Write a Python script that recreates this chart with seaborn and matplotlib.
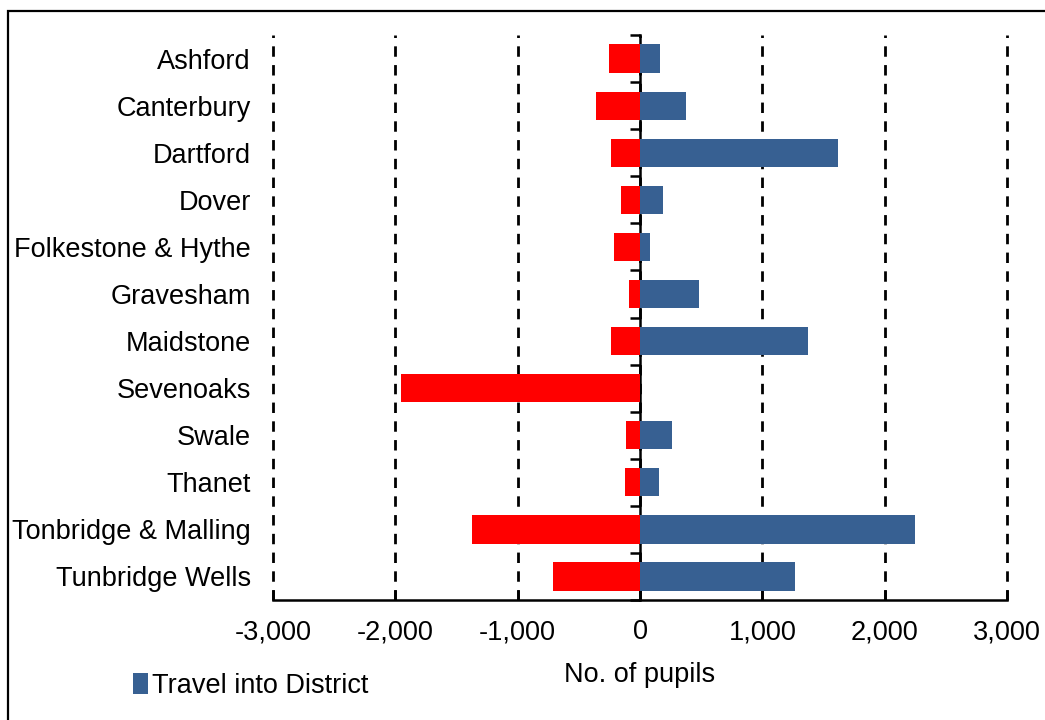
import matplotlib
matplotlib.use("Agg")
import matplotlib.pyplot as plt
import matplotlib.ticker as mticker
from matplotlib.patches import Rectangle
import seaborn as sns
import pandas as pd

districts = ["Ashford", "Canterbury", "Dartford", "Dover", "Folkestone & Hythe",
             "Gravesham", "Maidstone", "Sevenoaks", "Swale", "Thanet",
             "Tonbridge & Malling", "Tunbridge Wells"]
travel_out = [-250, -362, -237, -157, -211, -90, -233, -1951, -114, -125, -1375, -711]
travel_in = [164, 378, 1619, 184, 78, 482, 1374, 0, 262, 159, 2245, 1263]
series_names = ["Travel out of District", "Travel into District"]
series_colors = ["#FF0000", "#376092"]
x_ticks = [-3000, -2000, -1000, 0, 1000, 2000, 3000]

df = pd.DataFrame({
    "District": districts * 2,
    "Series": [series_names[0]] * len(districts) + [series_names[1]] * len(districts),
    "Pupils": travel_out + travel_in,
})

sns.set_theme(style="white")
plt.rcParams["font.family"] = ["Liberation Sans", "DejaVu Sans"]
plt.rcParams["lines.scale_dashes"] = False
plt.rcParams["text.color"] = "black"
plt.rcParams["xtick.color"] = "black"
plt.rcParams["ytick.color"] = "black"
plt.rcParams["axes.labelcolor"] = "black"

FS = 19.5

fig = plt.figure(figsize=(10.45, 7.2), dpi=100)
ax = fig.add_axes([273 / 1045, 1 - 600 / 720, (1007 - 273) / 1045, (600 - 35) / 720])

sns.barplot(data=df, y="District", x="Pupils", hue="Series", dodge=False,
            palette=dict(zip(series_names, series_colors)), width=0.6,
            orient="h", ax=ax, saturation=1, linewidth=0)

ax.set_xlim(-3000, 3000)
ax.set_xticks(x_ticks)
ax.xaxis.set_major_formatter(mticker.FuncFormatter(lambda v, p: f"{int(v):,}"))
ax.set_axisbelow(True)
ax.grid(axis="x", color="black", linewidth=2.0, linestyle=(0, (7.5, 6)))
ax.grid(axis="y", visible=False)
for gl in ax.get_xgridlines():
    gl.set_clip_on(False)

for s in ["top", "right", "left"]:
    ax.spines[s].set_visible(False)
ax.spines["bottom"].set_color("black")
ax.spines["bottom"].set_linewidth(1.8)

ax.tick_params(axis="x", direction="in", length=7, width=1.8, color="black",
               labelsize=FS, pad=14, bottom=True, labelcolor="black")
ax.tick_params(axis="y", length=0, labelsize=FS, pad=16, labelcolor="black")
ax.set_ylabel("")
ax.set_xlabel("No. of pupils", fontsize=FS, labelpad=12, color="black")

sec = ax.secondary_yaxis(0.5)
sec.set_alignment("left")
sec.set_yticks([i - 0.5 for i in range(len(districts) + 1)])
sec.set_yticklabels([])
sec.tick_params(axis="y", which="major", direction="out", length=7, width=1.8,
                color="black")
sec.spines["left"].set_linewidth(1.8)
sec.spines["left"].set_color("black")

handles, labels = ax.get_legend_handles_labels()
ax.get_legend().remove()
idx = labels.index(series_names[1])
fig.legend([handles[idx]], [labels[idx]], loc="center left",
           bbox_to_anchor=(122 / 1045, 1 - 686 / 720), frameon=False,
           fontsize=FS, handlelength=0.55, handleheight=0.8, handletextpad=0.15,
           borderaxespad=0)

fig.patches.append(Rectangle((8 / 1045, -0.1), 1.2, 1 - 11 / 720 + 0.1,
                             transform=fig.transFigure, fill=False,
                             edgecolor="black", linewidth=1.6))

fig.savefig("out.png", dpi=100)
